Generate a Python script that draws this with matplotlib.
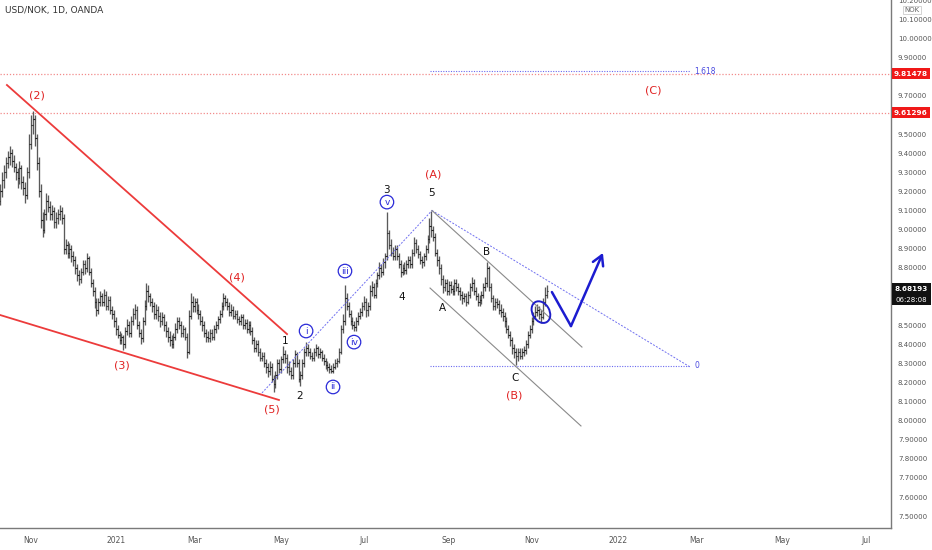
import numpy as np
import pandas as pd
import matplotlib
matplotlib.use("Agg")
import matplotlib.pyplot as plt
from matplotlib.patches import Ellipse, Rectangle
from matplotlib.transforms import ScaledTranslation

# ---------------- data ----------------
start_date = "2020-10-09"
closes = [
    9.20, 9.26, 9.30, 9.35, 9.38, 9.40, 9.36, 9.33, 9.30, 9.27,
    9.32, 9.25, 9.22, 9.18, 9.30, 9.45, 9.55, 9.58, 9.48, 9.35,
    9.20, 9.05, 9.00, 9.08, 9.15, 9.12, 9.08, 9.10, 9.04, 9.06,
    9.08, 9.10, 9.06, 8.90, 8.92, 8.88, 8.90, 8.86, 8.84, 8.80,
    8.76, 8.74, 8.78, 8.82, 8.80, 8.85, 8.78, 8.72, 8.68, 8.62,
    8.58, 8.62, 8.65, 8.62, 8.66, 8.60, 8.63, 8.58, 8.56, 8.52,
    8.48, 8.45, 8.42, 8.44, 8.40, 8.47, 8.50, 8.46, 8.52, 8.56,
    8.58, 8.50, 8.46, 8.43, 8.52, 8.60, 8.68, 8.65, 8.62, 8.60,
    8.56, 8.58, 8.55, 8.52, 8.54, 8.50, 8.47, 8.44, 8.42, 8.40,
    8.44, 8.48, 8.52, 8.50, 8.46, 8.48, 8.44, 8.36, 8.55, 8.62,
    8.60, 8.62, 8.58, 8.56, 8.52, 8.50, 8.46, 8.44, 8.43, 8.46,
    8.44, 8.48, 8.50, 8.53, 8.56, 8.60, 8.64, 8.62, 8.60, 8.57,
    8.58, 8.55, 8.56, 8.53, 8.52, 8.54, 8.50, 8.51, 8.48, 8.50,
    8.47, 8.42, 8.38, 8.40, 8.36, 8.33, 8.34, 8.30, 8.28, 8.26,
    8.28, 8.22, 8.19, 8.24, 8.30, 8.27, 8.32, 8.35, 8.33, 8.28,
    8.26, 8.24, 8.30, 8.35, 8.30, 8.22, 8.24, 8.30, 8.36, 8.38,
    8.36, 8.34, 8.33, 8.36, 8.38, 8.35, 8.36, 8.33, 8.31, 8.29,
    8.28, 8.27, 8.26, 8.28, 8.30, 8.31, 8.36, 8.48, 8.52, 8.64,
    8.60, 8.56, 8.52, 8.50, 8.49, 8.52, 8.55, 8.57, 8.60, 8.62,
    8.58, 8.60, 8.68, 8.70, 8.66, 8.72, 8.76, 8.80, 8.78, 8.83,
    8.86, 8.98, 8.92, 8.88, 8.86, 8.90, 8.86, 8.82, 8.78, 8.80,
    8.79, 8.82, 8.84, 8.82, 8.88, 8.93, 8.90, 8.87, 8.84, 8.83,
    8.86, 8.90, 8.95, 9.02, 9.00, 8.96, 8.88, 8.84, 8.80, 8.74,
    8.70, 8.72, 8.68, 8.71, 8.69, 8.68, 8.72, 8.70, 8.68, 8.66,
    8.64, 8.65, 8.62, 8.66, 8.70, 8.72, 8.68, 8.65, 8.62, 8.63,
    8.66, 8.70, 8.72, 8.80, 8.70, 8.64, 8.60, 8.62, 8.61, 8.58,
    8.57, 8.55, 8.52, 8.48, 8.45, 8.42, 8.38, 8.36, 8.34, 8.36,
    8.34, 8.36, 8.37, 8.40, 8.45, 8.48, 8.52, 8.55, 8.57, 8.58,
    8.56, 8.54, 8.62, 8.66, 8.68,
]
highs = [
    9.24, 9.30, 9.34, 9.38, 9.41, 9.44, 9.42, 9.39, 9.35, 9.32,
    9.36, 9.34, 9.28, 9.25, 9.33, 9.50, 9.60, 9.62, 9.60, 9.50,
    9.38, 9.24, 9.09, 9.11, 9.19, 9.18, 9.15, 9.13, 9.12, 9.09,
    9.11, 9.13, 9.12, 9.08, 8.95, 8.94, 8.93, 8.92, 8.89, 8.86,
    8.82, 8.79, 8.80, 8.84, 8.84, 8.88, 8.86, 8.80, 8.74, 8.70,
    8.64, 8.64, 8.68, 8.67, 8.69, 8.68, 8.65, 8.65, 8.60, 8.58,
    8.54, 8.50, 8.47, 8.46, 8.45, 8.49, 8.53, 8.52, 8.55, 8.59,
    8.61, 8.60, 8.52, 8.48, 8.54, 8.63, 8.72, 8.71, 8.67, 8.64,
    8.62, 8.61, 8.60, 8.57, 8.57, 8.56, 8.52, 8.49, 8.47, 8.45,
    8.46, 8.51, 8.54, 8.54, 8.52, 8.50, 8.49, 8.46, 8.58, 8.67,
    8.65, 8.64, 8.64, 8.61, 8.58, 8.55, 8.52, 8.48, 8.47, 8.48,
    8.48, 8.50, 8.52, 8.55, 8.58, 8.62, 8.67, 8.66, 8.64, 8.62,
    8.61, 8.60, 8.58, 8.58, 8.55, 8.56, 8.56, 8.53, 8.53, 8.52,
    8.52, 8.49, 8.44, 8.42, 8.42, 8.38, 8.36, 8.36, 8.32, 8.30,
    8.31, 8.30, 8.24, 8.26, 8.32, 8.32, 8.34, 8.39, 8.37, 8.35,
    8.31, 8.28, 8.32, 8.37, 8.36, 8.32, 8.26, 8.32, 8.38, 8.41,
    8.40, 8.38, 8.36, 8.38, 8.40, 8.39, 8.38, 8.37, 8.35, 8.33,
    8.31, 8.30, 8.29, 8.30, 8.32, 8.33, 8.38, 8.50, 8.56, 8.71,
    8.67, 8.62, 8.58, 8.54, 8.52, 8.54, 8.57, 8.59, 8.62, 8.65,
    8.64, 8.62, 8.71, 8.73, 8.72, 8.74, 8.78, 8.83, 8.82, 8.85,
    8.88, 9.09, 9.00, 8.95, 8.91, 8.92, 8.92, 8.88, 8.84, 8.82,
    8.83, 8.84, 8.86, 8.86, 8.90, 8.96, 8.95, 8.92, 8.89, 8.86,
    8.88, 8.92, 8.97, 9.06, 9.10, 9.02, 8.98, 8.90, 8.86, 8.82,
    8.76, 8.74, 8.74, 8.73, 8.73, 8.71, 8.74, 8.74, 8.72, 8.70,
    8.68, 8.67, 8.67, 8.68, 8.72, 8.75, 8.74, 8.70, 8.67, 8.66,
    8.68, 8.72, 8.75, 8.83, 8.81, 8.72, 8.66, 8.64, 8.64, 8.63,
    8.61, 8.59, 8.57, 8.54, 8.50, 8.47, 8.44, 8.40, 8.38, 8.38,
    8.38, 8.38, 8.39, 8.42, 8.47, 8.50, 8.54, 8.57, 8.60, 8.61,
    8.60, 8.58, 8.64, 8.70, 8.71,
]
lows = [
    9.13, 9.17, 9.22, 9.27, 9.32, 9.34, 9.33, 9.30, 9.26, 9.22,
    9.24, 9.21, 9.18, 9.14, 9.16, 9.27, 9.42, 9.50, 9.44, 9.31,
    9.17, 9.01, 8.96, 8.98, 9.05, 9.09, 9.05, 9.05, 9.01, 9.01,
    9.03, 9.05, 9.03, 8.87, 8.87, 8.85, 8.85, 8.83, 8.81, 8.77,
    8.73, 8.71, 8.72, 8.76, 8.77, 8.78, 8.76, 8.70, 8.65, 8.59,
    8.55, 8.56, 8.60, 8.60, 8.60, 8.58, 8.58, 8.56, 8.53, 8.49,
    8.45, 8.43, 8.40, 8.40, 8.37, 8.38, 8.45, 8.44, 8.44, 8.50,
    8.53, 8.48, 8.44, 8.40, 8.41, 8.50, 8.58, 8.62, 8.60, 8.57,
    8.53, 8.53, 8.52, 8.49, 8.50, 8.47, 8.44, 8.41, 8.39, 8.38,
    8.38, 8.42, 8.46, 8.48, 8.44, 8.44, 8.42, 8.33, 8.35, 8.53,
    8.57, 8.57, 8.56, 8.53, 8.50, 8.47, 8.44, 8.41, 8.41, 8.41,
    8.42, 8.42, 8.46, 8.48, 8.51, 8.54, 8.58, 8.60, 8.58, 8.55,
    8.55, 8.53, 8.53, 8.51, 8.50, 8.50, 8.48, 8.48, 8.46, 8.46,
    8.45, 8.40, 8.36, 8.36, 8.34, 8.31, 8.31, 8.28, 8.25, 8.23,
    8.24, 8.20, 8.15, 8.17, 8.22, 8.25, 8.25, 8.30, 8.30, 8.25,
    8.24, 8.22, 8.22, 8.28, 8.28, 8.20, 8.18, 8.22, 8.28, 8.34,
    8.34, 8.32, 8.31, 8.31, 8.34, 8.33, 8.33, 8.31, 8.29, 8.27,
    8.26, 8.25, 8.25, 8.25, 8.27, 8.28, 8.30, 8.35, 8.46, 8.50,
    8.58, 8.54, 8.50, 8.48, 8.47, 8.47, 8.50, 8.53, 8.55, 8.58,
    8.54, 8.55, 8.58, 8.65, 8.64, 8.64, 8.70, 8.74, 8.75, 8.76,
    8.80, 8.84, 8.90, 8.86, 8.84, 8.84, 8.84, 8.80, 8.75, 8.76,
    8.77, 8.77, 8.80, 8.80, 8.80, 8.86, 8.88, 8.85, 8.82, 8.80,
    8.81, 8.84, 8.88, 8.93, 8.96, 8.94, 8.86, 8.81, 8.77, 8.71,
    8.67, 8.68, 8.66, 8.66, 8.67, 8.66, 8.66, 8.68, 8.66, 8.63,
    8.61, 8.62, 8.60, 8.61, 8.64, 8.68, 8.66, 8.63, 8.60, 8.60,
    8.61, 8.64, 8.68, 8.70, 8.68, 8.62, 8.58, 8.58, 8.59, 8.56,
    8.54, 8.52, 8.49, 8.46, 8.43, 8.39, 8.35, 8.33, 8.29, 8.31,
    8.32, 8.32, 8.34, 8.35, 8.38, 8.43, 8.46, 8.50, 8.53, 8.55,
    8.53, 8.51, 8.53, 8.60, 8.64,
]
first_open = 9.15
last_price = "8.68193"
countdown = "06:28:08"
level_labels = ["9.81478", "9.61296"]
level_values = [9.81478, 9.61296]
fib_levels = [9.83, 8.286]
fib_texts = ["1.618", "0"]
month_labels = ["Nov", "2021", "Mar", "May", "Jul", "Sep", "Nov", "2022", "Mar", "May", "Jul"]
month_starts = ["2020-11-01", "2021-01-01", "2021-03-01", "2021-05-01", "2021-07-01",
                "2021-09-01", "2021-11-01", "2022-01-01", "2022-03-01", "2022-05-01", "2022-07-01"]
ytick_values = [round(7.5 + 0.1 * k, 1) for k in range(28)]
hidden_ticks = [9.8, 9.6, 8.7, 8.6]   # covered by the price tags

# Elliott wave annotations (bar position, price)
red_labels = [("(2)", 19.1, 9.70), ("(3)", 63.3, 8.286), ("(4)", 123.0, 8.747), ("(5)", 141.2, 8.056),
              ("(A)", 224.8, 9.286), ("(B)", 266.9, 8.134), ("(C)", 339.1, 9.726)]
black_labels = [("1", 147.9, 8.417), ("2", 155.7, 8.129), ("3", 200.9, 9.207), ("4", 208.7, 8.647),
                ("5", 224.3, 9.192), ("A", 230.0, 8.589), ("B", 252.9, 8.883), ("C", 267.4, 8.223)]
circle_labels = [("i", 158.9, 8.469), ("ii", 172.9, 8.176), ("iii", 179.1, 8.783),
                 ("iv", 183.8, 8.411), ("v", 200.9, 9.144)]

# ---------------- figure ----------------
W, H = 932, 550
fig = plt.figure(figsize=(W / 100, H / 100), dpi=100)
ax = fig.add_axes([0, 22 / H, 891 / W, 528 / H])
ax.set_facecolor("white")

n = len(closes)
xs = np.arange(n)
opens = [first_open] + closes[:-1]
bar_col = "#5a5a5a"
ax.vlines(xs, lows, highs, color=bar_col, lw=0.95, zorder=3)
ax.hlines(opens, xs - 0.7, xs, color="#222222", lw=0.8, zorder=3)
ax.hlines(closes, xs, xs + 0.7, color="#222222", lw=0.8, zorder=3)

# date index (business days) for axis ticks
bdays = pd.bdate_range(start_date, "2022-09-30")
tick_pos = [int(np.searchsorted(bdays, pd.Timestamp(d))) for d in month_starts]

ax.set_xlim(-0.1, 462.75)
ax.set_ylim(7.4377, 10.2021)

# red horizontal levels
for v in level_values:
    ax.axhline(v, color="#f28b8b", lw=0.9, ls=(0, (1, 1.5)), zorder=2)

# fib lines
for v, t in zip(fib_levels, fib_texts):
    ax.plot([223.3, 358.3], [v, v], color="#6b6bf0", lw=0.8, ls=(0, (1, 1.3)), zorder=2)
    ax.text(360.5, v, t, color="#4a4ae0", fontsize=5.5, va="center", ha="left")

# wedge lines
red = "#ec3b3b"
ax.plot([3.5, 149.0], [9.757, 8.453], color=red, lw=1.3, zorder=4)
ax.plot([-0.1, 144.8], [8.553, 8.108], color=red, lw=1.3, zorder=4)

# thin blue dotted lines
ax.plot([136.0, 224.3], [8.145, 9.10], color="#7070f0", lw=0.7, ls=(0, (2, 1.5)), zorder=4)
ax.plot([224.3, 358.3], [9.10, 8.281], color="#7070f0", lw=0.7, ls=(0, (2, 1.5)), zorder=4)

# gray channel
ax.plot([224.3, 302.2], [9.10, 8.385], color="#8a8a8a", lw=0.8, zorder=4)
ax.plot([223.3, 301.7], [8.694, 7.972], color="#8a8a8a", lw=0.8, zorder=4)

# blue ellipse around breakout
etr = fig.dpi_scale_trans + ScaledTranslation(280.9, 8.568, ax.transData)
ax.add_patch(Ellipse((0, 0), 0.17, 0.23, angle=30, transform=etr, fill=False,
                     edgecolor="#1f1fc8", lw=1.4, zorder=6))

# projected path arrow
blue = "#1c1cd0"
ax.plot([286.6, 296.5], [8.673, 8.495], color=blue, lw=1.8, zorder=6, solid_capstyle="round")
ax.annotate("", xy=(313.1, 8.878), xytext=(296.5, 8.495),
            arrowprops=dict(arrowstyle="->,head_length=0.7,head_width=0.4", color=blue, lw=1.8,
                            shrinkA=0, shrinkB=0), zorder=6)

# labels
for t, x, y in red_labels:
    ax.text(x, y, t, color="#e02020", fontsize=8, ha="center", va="center", zorder=7)
for t, x, y in black_labels:
    ax.text(x, y, t, color="#111111", fontsize=7.5, ha="center", va="center", zorder=7)
for t, x, y in circle_labels:
    ax.text(x, y, t, color="#2a2ad8", fontsize=6.5, ha="center", va="center", zorder=7,
            bbox=dict(boxstyle="circle,pad=0.25", fc="white", ec="#2a2ad8", lw=0.9))

# axes styling
for s in ["top", "left"]:
    ax.spines[s].set_visible(False)
ax.spines["right"].set_color("#7a7a7a")
ax.spines["bottom"].set_color("#7a7a7a")
ax.spines["right"].set_linewidth(1.0)
ax.spines["bottom"].set_linewidth(1.0)
ax.yaxis.tick_right()
ax.set_yticks(ytick_values)
ax.set_yticklabels(["" if v in hidden_ticks else f"{v:.5f}" for v in ytick_values])
ax.tick_params(axis="y", length=0, pad=5, labelsize=5, labelcolor="#555555")
ax.set_xticks(tick_pos)
ax.set_xticklabels(month_labels)
ax.tick_params(axis="x", length=0, pad=6, labelsize=5.5, labelcolor="#555555")

# right-axis price tags (red), drawn as boxes spanning the axis strip
fig.canvas.draw()
for lab, v in zip(level_labels, level_values):
    ypix = ax.transData.transform((0, v))[1]
    fig.patches.append(Rectangle((892 / W, (ypix - 5.5) / H), 38 / W, 11 / H,
                                 transform=fig.transFigure, fc="#f01818", ec="none", zorder=10))
    fig.text(911 / W, ypix / H, lab, color="white", fontsize=5.3, fontweight="bold",
             ha="center", va="center", zorder=11)

# last-price tag (black box, two lines)
fig.patches.append(Rectangle((892 / W, 1 - 305 / H), 39 / W, 22 / H, transform=fig.transFigure,
                             fc="#111111", ec="none", zorder=10))
fig.text(911.5 / W, 1 - 289 / H, last_price, color="white", fontsize=5.2, fontweight="bold",
         ha="center", va="center", zorder=11)
fig.text(911.5 / W, 1 - 299.5 / H, countdown, color="white", fontsize=5.0,
         ha="center", va="center", zorder=11)

fig.text(912 / W, 1 - 10 / H, "NOK", color="#666666", fontsize=5, ha="center", va="center",
         bbox=dict(boxstyle="square,pad=0.2", fc="white", ec="#cccccc", lw=0.6))

# title
fig.text(5 / W, 1 - 11 / H, "USD/NOK, 1D, OANDA", color="#333333", fontsize=6.5,
         ha="left", va="center")

fig.savefig("out.png", dpi=100, facecolor="white")
